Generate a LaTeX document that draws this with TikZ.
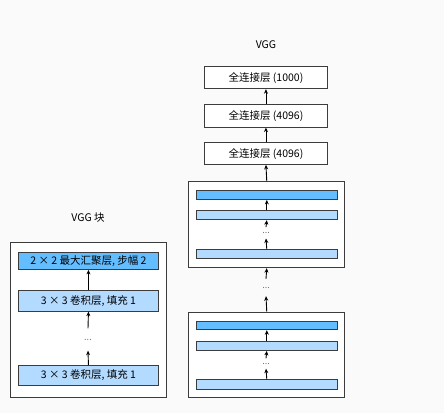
\documentclass[tikz,border=0pt]{standalone}
\usepackage{fontspec}
\setmainfont{Noto Sans CJK SC}
\usetikzlibrary{arrows.meta}
\definecolor{pooldark}{HTML}{63BDFF}
\definecolor{convlight}{HTML}{B3DAFF}
\definecolor{edgegray}{HTML}{3C3C3C}

\begin{document}
\begin{tikzpicture}[x=1pt,y=-1pt,
	every node/.style={font=\fontsize{10.5}{12}\selectfont},
	blockbox/.style={draw=edgegray,line width=0.9pt,fill=white,anchor=north west,inner sep=0pt},
	layerbox/.style={draw=edgegray,line width=0.9pt,anchor=north west,inner sep=0pt},
	fcbox/.style={layerbox,fill=white,minimum width=122.4pt},
	poolbox/.style={layerbox,fill=pooldark},
	convbox/.style={layerbox,fill=convlight},
	dotsnode/.style={inner sep=0pt,text=black!55,font=\fontsize{9}{10}\selectfont},
	arr/.style={-{Stealth[length=4.5pt,width=4pt]},line width=0.9pt,black}]
	%%%%% background %%%%%
	\fill[white!98!black] (0,0) rectangle (444,413);
	\useasboundingbox (0,0) rectangle (444,413);

	%%%%% VGG block (left) %%%%%
	\node (lefttitle) at (88,218) {VGG 块};
	\node[blockbox,minimum width=156pt,minimum height=155.5pt] (leftblk) at (10,241.5) {};
	\node[poolbox,minimum width=140.6pt,minimum height=17.3pt] (leftpool) at (17.7,251.7) {2 × 2 最大汇聚层, 步幅 2};
	\node[convbox,minimum width=140.6pt,minimum height=20.7pt] (leftconva) at (17.7,290) {3 × 3 卷积层, 填充 1};
	\node[convbox,minimum width=140.6pt,minimum height=20pt] (leftconvb) at (17.7,365) {3 × 3 卷积层, 填充 1};
	\node[dotsnode,minimum height=22pt] (leftdots) at (88,339.5) {...};

	\draw[arr] (leftconva.north) -- (leftpool.south);
	\draw[arr] (leftdots.north) -- (leftconva.south);
	\draw[arr] (leftconvb.north) -- (leftdots.south);

	%%%%% VGG network (right) %%%%%
	\node (righttitle) at (266,45) {VGG};
	\node[fcbox,minimum height=22.3pt] (fca) at (204.3,66) {全连接层 (1000)};
	\node[fcbox,minimum height=22.7pt] (fcb) at (204.3,104) {全连接层 (4096)};
	\node[fcbox,minimum height=21.7pt] (fcc) at (204.3,142.3) {全连接层 (4096)};

	\node[blockbox,minimum width=156pt,minimum height=86.3pt] (upblk) at (188.3,181) {};
	\node[poolbox,minimum width=140.7pt,minimum height=9pt] (uppool) at (196,190) {};
	\node[convbox,minimum width=140.7pt,minimum height=9.3pt] (upconva) at (196,210) {};
	\node[convbox,minimum width=140.7pt,minimum height=9pt] (upconvb) at (196,249.3) {};
	\node[dotsnode,minimum height=11pt] (updots) at (266,232.8) {...};

	\node[dotsnode,minimum height=17pt] (middots) at (266,287.5) {...};

	\node[blockbox,minimum width=156pt,minimum height=85.6pt] (lowblk) at (188.3,311.7) {};
	\node[poolbox,minimum width=140.7pt,minimum height=8.6pt] (lowpool) at (196,320.7) {};
	\node[convbox,minimum width=140.7pt,minimum height=9.3pt] (lowconva) at (196,340.7) {};
	\node[convbox,minimum width=140.7pt,minimum height=9.7pt] (lowconvb) at (196,379.3) {};
	\node[dotsnode,minimum height=10pt] (lowdots) at (266,363.5) {...};

	\draw[arr] (fcb.north) -- (fca.south);
	\draw[arr] (fcc.north) -- (fcb.south);
	\draw[arr] (upblk.north) -- (fcc.south);
	\draw[arr] (upconva.north) -- (uppool.south);
	\draw[arr] (updots.north) -- (upconva.south);
	\draw[arr] (upconvb.north) -- (updots.south);
	\draw[arr] (middots.north) -- (upblk.south);
	\draw[arr] (lowblk.north) -- (middots.south);
	\draw[arr] (lowconva.north) -- (lowpool.south);
	\draw[arr] (lowdots.north) -- (lowconva.south);
	\draw[arr] (lowconvb.north) -- (lowdots.south);
\end{tikzpicture}
\end{document}
